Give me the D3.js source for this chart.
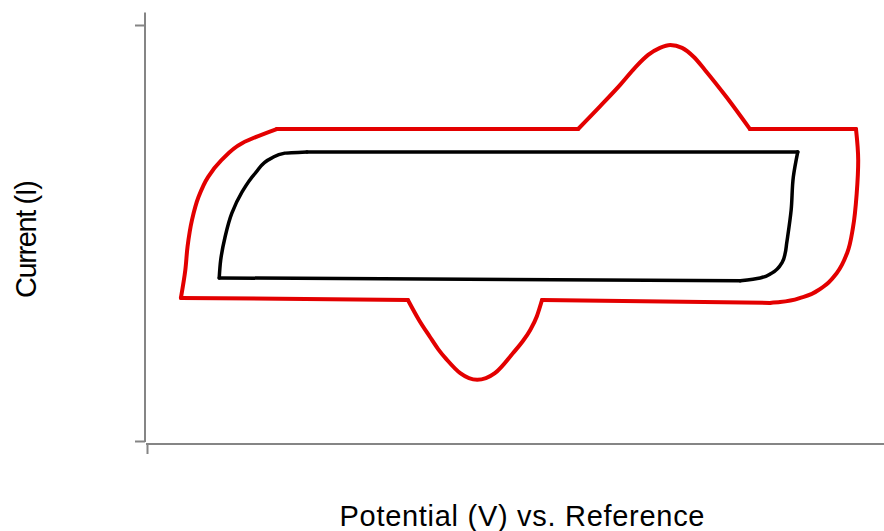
<!DOCTYPE html>
<html>
<head>
<meta charset="utf-8">
<script src="https://cdn.jsdelivr.net/npm/d3@7"></script>
<style>
  html, body { margin: 0; padding: 0; background: #fff; }
  svg { display: block; }
</style>
</head>
<body>
<svg id="chart" width="884" height="531"></svg>
<script>
// Cyclic voltammogram sketch: potential (arbitrary units) vs current (arbitrary units).

// Tick positions on each axis
const xTickValues = [0];
const yTickValues = [-50, 50];

// Red loop: capacitive box with a redox couple (oxidation peak on top, reduction peak below).
const redTop = [[17.6, 25.0], [58.5, 25.0]];
const redOxPeak = [[58.5, 25.0], [61.5, 30.5], [64.2, 35.6], [66.2, 39.7], [68.0, 42.8], [69.6, 44.5], [71.0, 45.2],
                   [72.6, 44.5], [74.2, 42.3], [75.7, 39.2], [78.7, 32.5], [81.8, 25.0]];
const redTopRight = [[81.8, 25.0], [96.2, 25.0]];
const redRightTurn = [[96.2, 25.0], [96.5, 17.5], [96.3, 9.6], [95.8, 1.4], [95.0, -4.8], [93.6, -9.6], [91.7, -13.0], [89.0, -15.4], [85.9, -16.6], [84.5, -16.8]];
const redBottomRight = [[84.5, -16.8], [53.6, -16.1]];
const redRedPeak = [[35.4, -16.1], [36.9, -20.9], [38.4, -25.0], [39.5, -27.9], [40.7, -30.5], [42.5, -33.7], [44.8, -35.3],
                    [47.2, -33.7], [49.7, -28.8], [50.9, -26.2], [52.0, -23.3], [52.9, -20.0], [53.6, -16.1]];
const redBottomLeft = [[35.4, -16.1], [4.6, -15.6]];
const redLeftTurn = [[4.6, -15.6], [5.2, -8.9], [5.5, -3.3], [6.1, 3.1], [7.0, 8.7], [8.3, 13.5], [10.1, 17.5], [12.9, 21.6], [17.6, 25.0]];

// Black loop: purely capacitive response
const blackTop = [[21.7, 19.5], [88.3, 19.5]];
const blackRightTurn = [[88.3, 19.5], [87.7, 13.5], [87.4, 5.5], [86.8, -2.4], [86.6, -4.8], [86.2, -7.0], [84.8, -9.6], [83.2, -10.8], [80.5, -11.5]];
const blackBottom = [[80.5, -11.5], [9.8, -10.8]];
const blackLeftTurn = [[9.8, -10.8], [10.0, -6.5], [10.6, -0.9], [11.5, 4.7], [12.9, 9.9], [14.7, 14.4], [16.9, 18.0], [18.7, 19.2], [21.7, 19.5]];

const xLabel = "Potential (V) vs. Reference";
const yLabel = "Current (I)";

const svg = d3.select("#chart");

const x = d3.scaleLinear().domain([0, 100]).range([147, 884]);
const y = d3.scaleLinear().domain([-50, 50]).range([441, 25]);

const axisColor = "#858585";

// Y axis (line extends a little above the top tick)
const yAxisX = 145;
const yAxis = svg.append("g").attr("transform", `translate(${yAxisX},0)`)
  .call(d3.axisLeft(y).tickValues(yTickValues).tickSize(10).tickSizeOuter(0).tickFormat(""));
yAxis.select(".domain").remove();
yAxis.selectAll(".tick line").attr("stroke", axisColor).attr("stroke-width", 2);
yAxis.append("line")
  .attr("x1", 0).attr("x2", 0)
  .attr("y1", y(53)).attr("y2", y(-50) + 1)
  .attr("stroke", axisColor).attr("stroke-width", 2);

// X axis
const xAxisY = 444;
const xAxis = svg.append("g").attr("transform", `translate(0,${xAxisY})`)
  .call(d3.axisBottom(x).tickValues(xTickValues).tickSize(10).tickSizeOuter(0).tickFormat(""));
xAxis.select(".domain").remove();
xAxis.selectAll(".tick line").attr("stroke", axisColor).attr("stroke-width", 2);
xAxis.append("line")
  .attr("x1", x(0) - 1).attr("x2", 884)
  .attr("y1", 0).attr("y2", 0)
  .attr("stroke", axisColor).attr("stroke-width", 2);

const lineGen = curve => d3.line().x(d => x(d[0])).y(d => y(d[1])).curve(curve);
const generators = {
  line: lineGen(d3.curveLinear),
  peak: lineGen(d3.curveMonotoneX),
  turn: lineGen(d3.curveMonotoneY)
};

function drawLoop(pieces, color, width) {
  const g = svg.append("g");
  pieces.forEach(([kind, pts]) => {
    // monotone curves need points ordered along their driving axis
    let ordered = pts;
    if (kind === "turn") ordered = pts.slice().sort((a, b) => a[1] - b[1]);
    if (kind === "peak") ordered = pts.slice().sort((a, b) => a[0] - b[0]);
    g.append("path")
      .attr("d", generators[kind](ordered))
      .attr("fill", "none")
      .attr("stroke", color)
      .attr("stroke-width", width)
      .attr("stroke-linecap", "round")
      .attr("stroke-linejoin", "round");
  });
}

drawLoop([
  ["line", blackTop], ["turn", blackRightTurn], ["line", blackBottom], ["turn", blackLeftTurn]
], "#000000", 3.5);

drawLoop([
  ["line", redTop], ["peak", redOxPeak], ["line", redTopRight], ["turn", redRightTurn],
  ["line", redBottomRight], ["peak", redRedPeak], ["line", redBottomLeft], ["turn", redLeftTurn]
], "#e30000", 4);

// Axis titles
svg.append("text")
  .attr("x", 522).attr("y", 526)
  .attr("text-anchor", "middle")
  .attr("font-family", "'Liberation Sans', Arial, sans-serif")
  .attr("font-size", 29)
  .attr("textLength", 365)
  .attr("lengthAdjust", "spacing")
  .attr("fill", "#000")
  .text(xLabel);

svg.append("text")
  .attr("transform", "translate(36,239) rotate(-90)")
  .attr("text-anchor", "middle")
  .attr("font-family", "'Liberation Sans', Arial, sans-serif")
  .attr("font-size", 29)
  .attr("textLength", 118)
  .attr("lengthAdjust", "spacing")
  .attr("fill", "#000")
  .text(yLabel);
</script>
</body>
</html>
